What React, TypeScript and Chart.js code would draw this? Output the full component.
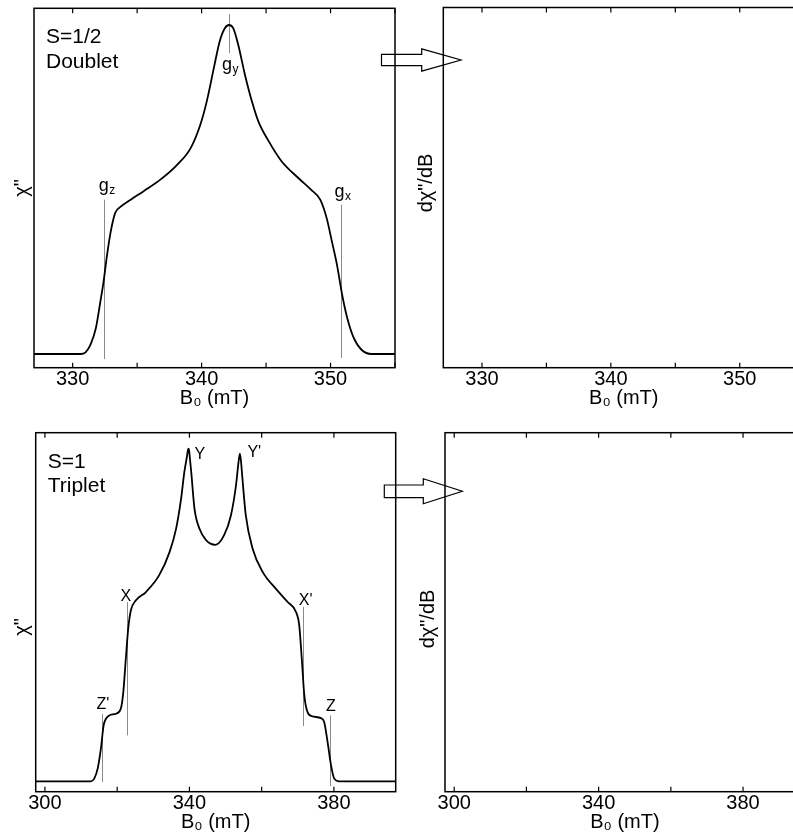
import React, { useEffect, useRef } from 'react';
import { Chart, registerables } from 'chart.js';

Chart.register(...registerables);

const FONT = '"Liberation Sans", Arial, Helvetica, sans-serif';

// ---- S = 1/2 doublet absorption (field in mT, relative chi'') ----
const doubletField = [
  327, 330.6, 331.0, 331.4, 331.8, 332.15, 332.4, 332.67, 332.98, 333.3, 333.7, 334.5,
  335.5, 336.8, 338.1, 339.15, 339.9, 340.4, 341.0, 341.4, 341.8, 342.12, 342.46, 342.84,
  343.36, 343.9, 344.4, 345.2, 346.2, 347.5, 348.5, 349.2, 349.7, 350.1, 350.5, 350.9,
  351.3, 351.8, 352.4, 353.2, 355,
];
const doubletChi = [
  0, 0, 0.005, 0.03, 0.079, 0.16, 0.221, 0.302, 0.378, 0.429, 0.447, 0.469,
  0.495, 0.53, 0.575, 0.626, 0.697, 0.768, 0.879, 0.95, 0.99, 1.0, 0.99, 0.94,
  0.849, 0.768, 0.707, 0.647, 0.586, 0.535, 0.499, 0.469, 0.413, 0.343, 0.271, 0.18,
  0.109, 0.049, 0.013, 0, 0,
];

// ---- S = 1 triplet absorption ----
const tripletField = [
  297.45, 312.7, 313.65, 314.6, 315.5, 316.25, 316.9, 317.8, 319.65, 321.0, 321.7, 322.4,
  323.06, 323.8, 325.2, 327.96, 331.6, 334.5, 336.3, 337.7, 338.6, 339.3, 339.6, 339.83,
  340.1, 340.5, 341.4, 342.8, 344.6, 347.2, 349.6, 351.5, 352.9, 353.6, 353.97, 354.3,
  354.6, 355.6, 357.5, 360.3, 363.9, 367.2, 369.5, 370.4, 371.1, 371.8, 372.7, 374.1,
  376.4, 377.3, 378.25, 379.2, 380.1, 381.5, 397.1,
];
const tripletChi = [
  0, 0, 0.008, 0.038, 0.098, 0.168, 0.188, 0.198, 0.203, 0.218, 0.268, 0.369,
  0.459, 0.514, 0.544, 0.569, 0.619, 0.689, 0.759, 0.85, 0.93, 0.975, 0.997, 1.0,
  0.975, 0.93, 0.82, 0.759, 0.725, 0.711, 0.74, 0.8, 0.89, 0.96, 0.985, 0.96,
  0.92, 0.8, 0.699, 0.629, 0.579, 0.539, 0.509, 0.469, 0.369, 0.259, 0.208, 0.195,
  0.19, 0.178, 0.118, 0.048, 0.008, 0, 0,
];

// ticks (positions) and which of them carry labels
const doubletTicks = [330, 335, 340, 345, 350, 355];
const doubletTickLabels = [330, 340, 350];
const tripletTicks = [300, 320, 340, 360, 380];
const tripletTickLabels = [300, 340, 380];

// marker lines (field, from, to)
const doubletMarkField = [332.4, 342.15, 350.8];
const doubletMarkFrom = [-0.015, 0.915, -0.012];
const doubletMarkTo = [0.469, 1.033, 0.454];
const doubletLabelMain = ['g', 'g', 'g'];
const doubletLabelSub = ['z', 'y', 'x'];
const doubletLabelField = [332.64, 342.2, 350.93];
const doubletLabelY = [0.497, 0.862, 0.476];

const tripletMarkField = [315.7, 322.7, 371.4, 378.9];
const tripletMarkFrom = [-0.002, 0.138, 0.166, -0.014];
const tripletMarkTo = [0.203, 0.539, 0.524, 0.198];
const tripletLabelMain = ["Z'", 'X', 'Y', "Y'", "X'", 'Z'];
const tripletLabelField = [316.06, 322.42, 342.85, 357.96, 372.17, 379.17];
const tripletLabelY = [0.2165, 0.541, 0.97, 0.975, 0.531, 0.2105];

type Mark = { field: number; from: number; to: number };
type Label = { field: number; y: number; main: string; sub?: string; size: number };

interface PanelProps {
  left: number; top: number; width: number; height: number;
  padTop: number; padRight: number; yWidth: number; xHeight: number;
  yTitleX: number; yTitleY: number;
  xMin: number; xMax: number; ticks: number[]; tickLabels: number[];
  yMin: number; yMax: number; yTitle: string;
  field?: number[]; chi?: number[];
  marks?: Mark[]; labels?: Label[]; caption?: string[];
}

function Panel(p: PanelProps) {
  const ref = useRef<HTMLCanvasElement | null>(null);
  useEffect(() => {
    if (!ref.current) return;
    const marks = p.marks || [];
    const labels = p.labels || [];
    const caption = p.caption || [];
    const decor = {
      id: 'decor',
      beforeDatasetsDraw(chart: any) {
        const { ctx, scales: { x, y } } = chart;
        ctx.save();
        ctx.strokeStyle = '#8a8a8a';
        ctx.lineWidth = 1;
        marks.forEach((m) => {
          const px = Math.round(x.getPixelForValue(m.field)) + 0.5;
          ctx.beginPath();
          ctx.moveTo(px, y.getPixelForValue(m.from));
          ctx.lineTo(px, y.getPixelForValue(m.to));
          ctx.stroke();
        });
        ctx.restore();
      },
      afterDraw(chart: any) {
        const { ctx, chartArea, scales: { x, y } } = chart;
        const { left, right, top, bottom } = chartArea;
        ctx.save();
        ctx.strokeStyle = '#000';
        ctx.lineWidth = 1.5;
        ctx.strokeRect(left, top, right - left, bottom - top);
        ctx.lineWidth = 1.2;
        x.ticks.forEach((t: any) => {
          const px = x.getPixelForValue(t.value);
          ctx.beginPath();
          ctx.moveTo(px, bottom);
          ctx.lineTo(px, bottom - 5);
          ctx.moveTo(px, top);
          ctx.lineTo(px, top + 5);
          ctx.stroke();
        });
        ctx.fillStyle = '#000';
        // y-axis title (rotated)
        ctx.save();
        ctx.font = `20px ${FONT}`;
        ctx.textAlign = 'center';
        ctx.textBaseline = 'alphabetic';
        ctx.translate(p.yTitleX - p.left + 5, p.yTitleY - p.top);
        ctx.rotate(-Math.PI / 2);
        ctx.fillText(p.yTitle, 0, 0);
        ctx.restore();
        ctx.textBaseline = 'alphabetic';
        ctx.textAlign = 'left';
        ctx.font = `21px ${FONT}`;
        caption.forEach((c, i) => {
          ctx.fillText(c, left + 12, top + 35 + i * 24.5);
        });
        labels.forEach((l) => {
          ctx.font = `${l.size}px ${FONT}`;
          const wm = ctx.measureText(l.main).width;
          let ws = 0;
          const subSize = Math.round(l.size * 0.68);
          if (l.sub) {
            ctx.font = `${subSize}px ${FONT}`;
            ws = ctx.measureText(l.sub).width;
          }
          const cx = x.getPixelForValue(l.field);
          const by = y.getPixelForValue(l.y);
          const sx = cx - (wm + ws) / 2;
          ctx.font = `${l.size}px ${FONT}`;
          ctx.fillText(l.main, sx, by);
          if (l.sub) {
            ctx.font = `${subSize}px ${FONT}`;
            ctx.fillText(l.sub, sx + wm + 0.5, by + 3);
          }
        });
        ctx.restore();
      },
    };
    const datasets: any[] = [];
    if (p.field && p.chi) {
      datasets.push({
        data: p.field.map((f, i) => ({ x: f, y: p.chi![i] })),
        borderColor: '#000',
        borderWidth: 1.8,
        pointRadius: 0,
        cubicInterpolationMode: 'monotone',
        fill: false,
      });
    }
    const chart = new Chart(ref.current, {
      type: 'line',
      data: { datasets },
      plugins: [decor],
      options: {
        animation: false,
        responsive: false,
        devicePixelRatio: 1,
        layout: { padding: { top: p.padTop, right: p.padRight, left: 0, bottom: 0 } },
        plugins: { legend: { display: false }, tooltip: { enabled: false } },
        scales: {
          x: {
            type: 'linear',
            position: 'bottom',
            min: p.xMin,
            max: p.xMax,
            grid: { display: false, drawTicks: false },
            border: { display: false },
            afterBuildTicks: (s: any) => {
              s.ticks = p.ticks.map((v) => ({ value: v }));
            },
            ticks: {
              autoSkip: false,
              maxRotation: 0,
              padding: 0,
              color: '#000',
              font: { family: FONT, size: 20 },
              callback: (v: any) => {
                const hit = p.tickLabels.find((t) => Math.abs(t - Number(v)) < 1e-6);
                return hit === undefined ? '' : String(hit);
              },
            },
            title: {
              display: true,
              text: 'B\u2080 (mT)',
              color: '#000',
              font: { family: FONT, size: 20 },
              padding: { top: 4, bottom: 4 },
            },
            afterFit: (s: any) => { s.height = p.xHeight; },
          },
          y: {
            type: 'linear',
            position: 'left',
            min: p.yMin,
            max: p.yMax,
            grid: { display: false, drawTicks: false },
            border: { display: false },
            ticks: { display: false },
            title: { display: false },
            afterFit: (s: any) => { s.width = p.yWidth; },
          },
        },
      } as any,
    });
    return () => chart.destroy();
  }, []);
  return (
    <canvas
      ref={ref}
      width={p.width}
      height={p.height}
      style={{ position: 'absolute', left: p.left, top: p.top, width: p.width, height: p.height }}
    />
  );
}

function Arrow({ x0, x1, x2, yc, hs, hh }: { x0: number; x1: number; x2: number; yc: number; hs: number; hh: number }) {
  const pts = [
    [x0, yc - hs], [x1, yc - hs], [x1, yc - hh], [x2, yc], [x1, yc + hh], [x1, yc + hs], [x0, yc + hs],
  ].map((q) => q.join(',')).join(' ');
  return <polygon points={pts} fill="none" stroke="#000" strokeWidth={1.2} />;
}

export default function App() {
  const dMarks: Mark[] = doubletMarkField.map((f, i) => ({ field: f, from: doubletMarkFrom[i], to: doubletMarkTo[i] }));
  const dLabels: Label[] = doubletLabelField.map((f, i) => ({ field: f, y: doubletLabelY[i], main: doubletLabelMain[i], sub: doubletLabelSub[i], size: 18 }));
  const tMarks: Mark[] = tripletMarkField.map((f, i) => ({ field: f, from: tripletMarkFrom[i], to: tripletMarkTo[i] }));
  const tLabels: Label[] = tripletLabelField.map((f, i) => ({ field: f, y: tripletLabelY[i], main: tripletLabelMain[i], size: 16 }));
  const dY = { yMin: -0.0416, yMax: 1.0508 };
  const tY = { yMin: -0.0313, yMax: 1.048 };
  return (
    <div style={{ position: 'fixed', left: 0, top: 0, width: 793, height: 834, overflow: 'hidden', background: '#fff' }}>
      <Panel left={0} top={0} width={400} height={414} padTop={8.3} padRight={5} yWidth={34} xHeight={46.3}
        yTitleX={22.5} yTitleY={188}
        xMin={327} xMax={355} ticks={doubletTicks} tickLabels={doubletTickLabels} {...dY} yTitle={'\u03C7"'}
        field={doubletField} chi={doubletChi} marks={dMarks} labels={dLabels} caption={['S=1/2', 'Doublet']} />
      <Panel left={400} top={0} width={410} height={414} padTop={7.5} padRight={5.8} yWidth={43.3} xHeight={46.3}
        yTitleX={426.5} yTitleY={183}
        xMin={327} xMax={355} ticks={doubletTicks} tickLabels={doubletTickLabels} {...dY} yTitle={'d\u03C7"/dB'} />
      <Panel left={0} top={420} width={400} height={418} padTop={12.7} padRight={4.3} yWidth={35.7} xHeight={46.3}
        yTitleX={22.5} yTitleY={627}
        xMin={297.45} xMax={397.1} ticks={tripletTicks} tickLabels={tripletTickLabels} {...tY} yTitle={'\u03C7"'}
        field={tripletField} chi={tripletChi} marks={tMarks} labels={tLabels} caption={['S=1', 'Triplet']} />
      <Panel left={400} top={420} width={410} height={418} padTop={12.7} padRight={5.2} yWidth={45} xHeight={46.3}
        yTitleX={428.5} yTitleY={619}
        xMin={297.45} xMax={397.1} ticks={tripletTicks} tickLabels={tripletTickLabels} {...tY} yTitle={'d\u03C7"/dB'} />
      <svg width={793} height={834} style={{ position: 'absolute', left: 0, top: 0, pointerEvents: 'none' }}>
        <Arrow x0={381.5} x1={421.7} x2={461} yc={60} hs={5.7} hh={11.2} />
        <Arrow x0={384.3} x1={423.3} x2={462.3} yc={491.3} hs={6.3} hh={12.5} />
      </svg>
    </div>
  );
}
